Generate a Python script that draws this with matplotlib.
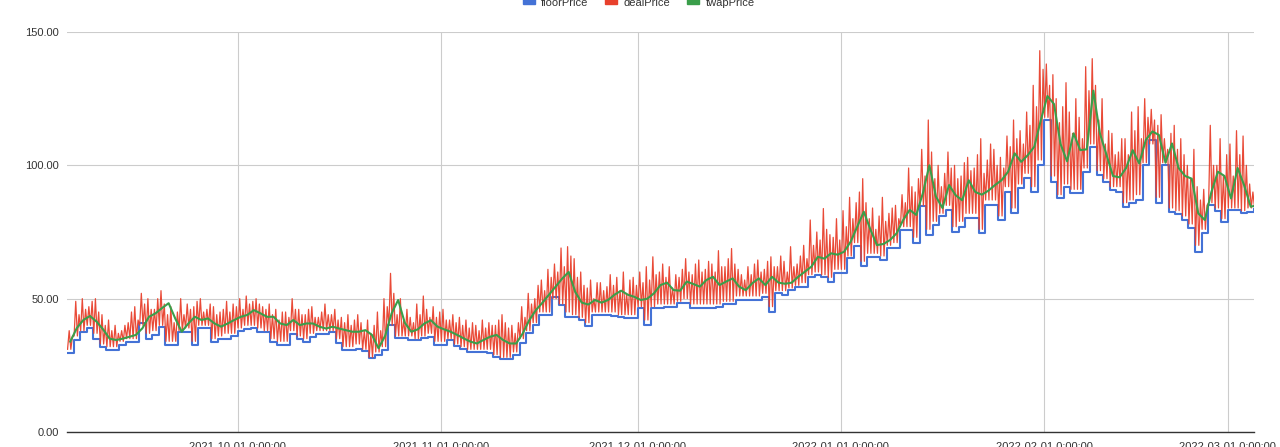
import numpy as np
import pandas as pd
import matplotlib
matplotlib.use("Agg")
import matplotlib.pyplot as plt
from matplotlib.patches import Rectangle

plt.rcParams['font.family'] = ['Liberation Sans', 'DejaVu Sans']

start_date = "2021-09-05"

floor_price = [
    29.6, 34.5, 37.5, 39, 35, 32, 30.7, 30.7, 32.6, 33.7,
    33.7, 41, 35, 36.4, 39.4, 32.6, 32.6, 37.5, 37.5, 32.6,
    39, 39, 33.7, 35, 35, 36, 38, 38.5, 39, 37.5,
    37.5, 33.7, 32.6, 32.6, 36.9, 35, 33.7, 35.7, 36.9, 36.9,
    37.5, 33.4, 30.7, 30.7, 31.2, 30.3, 27.7, 28.9, 30.7, 40.1,
    35.2, 35.2, 34.5, 34.5, 35.2, 35.7, 32.6, 32.6, 34.5, 32.2,
    31, 30, 30, 30, 29.6, 28.1, 27.3, 27.3, 28.9, 33.4,
    37, 40, 43.9, 43.9, 50.6, 47.6, 43.2, 43.2, 42, 39.7,
    43.9, 43.9, 43.9, 43.5, 43.2, 42.7, 42.7, 46.5, 40.1, 46.5,
    46.5, 46.8, 46.8, 48.4, 48.4, 46.5, 46.5, 46.5, 46.5, 47,
    48, 48, 49.5, 49.5, 49.5, 49.5, 50.5, 45, 52, 51.4,
    53.2, 54.4, 54.4, 58.1, 58.7, 58.1, 56.2, 59.6, 59.6, 65.2,
    69.7, 62.2, 65.6, 65.6, 64.5, 69, 69, 75.7, 75.7, 70.9,
    84.7, 73.9, 77.6, 81, 83.2, 75, 76.9, 80.2, 80.2, 74.6,
    85.1, 85.1, 79.5, 90, 82.1, 91.5, 95.2, 90, 100, 117,
    93.7, 87.7, 91.9, 89.6, 89.6, 97.5, 106.9, 96.4, 93.7, 90.7,
    90, 84.4, 85.9, 87, 100, 109.5, 85.9, 100, 82.5, 81.8,
    79.5, 76.5, 67.5, 74.6, 85.1, 83, 78.7, 83.2, 83.2, 82,
    82.5, 83.5,
]

# dealPrice: per day, a trough, the main spike and a secondary spike
deal_low = [
    31, 36, 38, 40, 37, 33, 32, 32, 34, 35,
    35, 40, 37, 38, 40, 34, 34, 38, 39, 34,
    40, 40, 35, 36, 37, 37, 39, 40, 40, 39,
    38, 35, 34, 34, 38, 36, 35, 37, 38, 38,
    38, 35, 32, 32, 33, 31, 28, 30, 32, 40,
    36, 36, 36, 35, 36, 37, 34, 34, 35, 33,
    32, 31, 31, 31, 31, 29, 28, 28, 30, 35,
    38, 41, 45, 45, 50, 48, 45, 44, 43, 41,
    45, 45, 45, 45, 44, 44, 44, 47, 42, 47,
    48, 48, 48, 49, 50, 48, 48, 48, 48, 48,
    49, 49, 51, 51, 51, 51, 52, 47, 53, 53,
    54, 55, 56, 59, 60, 59, 58, 61, 61, 66,
    71, 64, 67, 67, 66, 70, 71, 77, 77, 73,
    85, 76, 79, 82, 85, 77, 79, 82, 82, 76,
    87, 87, 81, 92, 84, 93, 97, 92, 102, 118,
    96, 89, 93, 91, 91, 99, 108, 98, 95, 92,
    92, 86, 87, 89, 101, 108, 88, 101, 84, 83,
    81, 78, 70, 76, 86, 84, 80, 84, 84, 83,
    84, 84,
]

deal_high = [
    38, 49, 50, 47, 50, 44, 42, 40, 38, 41,
    47, 52, 50, 46, 53, 44, 41, 50, 48, 47,
    50, 46, 47, 45, 49, 48, 50, 51, 49, 48,
    46, 44, 42, 45, 50, 46, 44, 47, 43, 48,
    44, 42, 41, 40, 44, 38, 37, 45, 50, 59.5,
    44, 42, 43, 48, 51, 43, 43, 46, 42, 41,
    40, 39, 40, 42, 41, 40, 44, 39, 37, 47,
    52, 50, 57, 61, 63, 69, 69.5, 65, 60, 54,
    50, 56, 54.5, 55, 53, 52, 58, 60, 62, 65.7,
    60, 58, 54, 58, 65, 59, 64.5, 61, 63, 68,
    62, 68.8, 61, 57, 59, 64.5, 61, 65.7, 62, 64,
    69.5, 63, 70, 79.5, 75, 83.8, 74, 80, 83, 88,
    86, 95, 80, 76, 88, 82, 85, 89, 99, 90,
    106, 117, 95, 92, 105, 100, 96, 103, 99, 110,
    102, 106, 103, 111, 117, 113, 120, 130, 143, 138,
    134, 116, 131, 112, 118, 137, 140, 117, 108, 112,
    105, 110, 120, 122, 125, 121, 115, 110, 112, 106,
    104, 95, 92, 91, 115, 100, 96, 108, 113, 111,
    93, 100,
]

deal_peak2 = [
    36, 44, 46, 49, 45, 40, 38, 37, 40, 45,
    42, 48, 46, 50, 48, 47, 45, 44, 46, 49,
    45, 48, 44, 46, 45, 47, 46, 48, 50, 47,
    48, 46, 45, 43, 46, 44, 46, 43, 45, 44,
    46, 43, 44, 42, 41, 42, 40, 38, 47, 52,
    50, 46, 41, 44, 46, 47, 45, 42, 44, 43,
    42, 41, 38, 39, 40, 42, 41, 40, 41, 43,
    48, 55, 53, 58, 60, 62, 66, 58, 55, 57,
    56, 53, 59, 58, 60, 57, 55, 56, 57, 59,
    63, 62, 59, 61, 60, 63, 60, 64, 60, 62,
    65, 63, 59, 62, 63, 60, 64, 62, 66, 60,
    62, 66, 65, 70, 72, 76, 73, 72, 77, 80,
    90, 86, 84, 81, 79, 84, 80, 86, 92, 95,
    96, 105, 100, 97, 99, 95, 101, 98, 104, 97,
    108, 100, 99, 107, 110, 108, 115, 122, 136, 130,
    125, 122, 120, 125, 110, 128, 130, 125, 113, 104,
    110, 104, 113, 110, 118, 117, 119, 106, 115, 110,
    100, 106, 87, 85, 100, 110, 104, 96, 104, 100,
    90, 88,
]

twap_price = [
    33.9, 39, 42, 43.5, 41.4, 38.5, 35, 34.5, 35, 35.7,
    36.4, 38.9, 43.2, 44.5, 46.5, 48.3, 42.6, 37.6, 40.7, 43.2,
    42, 42.6, 40.7, 39.5, 40.7, 42, 43.2, 43.9, 45.7, 44.5,
    43.2, 43.2, 40.7, 40.1, 42, 40.1, 40.7, 40.7, 39.5, 38.8,
    39.5, 38.8, 38.2, 37.6, 37.6, 38.2, 36.4, 31.4, 36, 44.5,
    49.5, 41, 37.6, 38.5, 40.7, 41.9, 39.5, 38.5, 37.6, 36.4,
    35.1, 33.9, 33.2, 34.5, 35.7, 36.4, 34.5, 33.2, 33.2, 37,
    42, 45.7, 48.5, 51.5, 54.5, 57.5, 60, 52.5, 48.5, 47.8,
    49.5, 48.5, 49.5, 51.5, 53, 51.5, 50.7, 49.5, 50, 52,
    55.1, 56, 53.2, 53, 56.4, 55.5, 54.5, 57, 58.2, 55.1,
    56.4, 57.6, 54.5, 53.2, 55.8, 57.6, 55.1, 58.2, 56, 55.6,
    56, 58.2, 60.1, 62, 65.7, 65, 67, 66.5, 67.6, 71.4,
    77, 82.6, 76, 70.1, 70.5, 72, 74.5, 79.5, 83.3, 81.4,
    89.5, 100, 88.3, 84, 92.6, 88.8, 86.9, 94.4, 90, 89,
    90.5, 92.6, 94.4, 97.6, 104.5, 101.3, 103.8, 107, 117, 126,
    123, 108, 101.5, 112, 105.7, 106, 128, 112, 104, 96,
    95.5, 99, 105.7, 100.7, 109.5, 112.7, 111.4, 101, 108.2, 99,
    96, 95, 82, 79.5, 90, 97.6, 96, 87.6, 99, 92.5,
    84.5, 85,
]

tick_dates = ["2021-10-01", "2021-11-01", "2021-12-01", "2022-01-01", "2022-02-01", "2022-03-01"]
tick_labels = [d + " 0:00:00" for d in tick_dates]
y_ticks = [0, 50, 100, 150]
y_labels = ["0.00", "50.00", "100.00", "150.00"]
series_names = ["floorPrice", "dealPrice", "twapPrice"]
colors = ["#4472D6", "#E8402C", "#3A9E4A"]

days = pd.date_range(start_date, periods=len(floor_price), freq="D")
twap_t = days + pd.Timedelta(hours=12)
deal_t = []
deal_v = []
for d, lo, hi, p2 in zip(days, deal_low, deal_high, deal_peak2):
    deal_t += [d + pd.Timedelta(hours=2), d + pd.Timedelta(hours=8),
               d + pd.Timedelta(hours=14), d + pd.Timedelta(hours=20)]
    deal_v += [lo, hi, lo, p2]

W, H = 1280, 447
fig = plt.figure(figsize=(W / 100, H / 100), dpi=100)
x0, x1, ytop, ybot = 67, 1254, 32, 432
ax = fig.add_axes([x0 / W, (H - ybot) / H, (x1 - x0) / W, (ybot - ytop) / H])

ax.plot(days, floor_price, drawstyle="steps-post", color=colors[0], lw=1.5, zorder=3)
ax.plot(deal_t, deal_v, color=colors[1], lw=0.9, zorder=4, alpha=0.95)
ax.plot(twap_t, twap_price, color=colors[2], lw=1.5, zorder=5)

ax.set_ylim(0, 150)
ax.set_xlim(pd.Timestamp(start_date), pd.Timestamp("2022-03-05"))
ax.set_yticks(y_ticks)
ax.set_yticklabels(y_labels)
ax.set_xticks(pd.to_datetime(tick_dates))
ax.set_xticklabels(tick_labels)
ax.tick_params(axis="both", length=0, labelsize=8, labelcolor="#333333")
ax.tick_params(axis="y", pad=6)
ax.tick_params(axis="x", pad=7)
ax.grid(True, color="#cccccc", lw=0.8, zorder=0)
for s in ["top", "right", "left"]:
    ax.spines[s].set_visible(False)
ax.spines["bottom"].set_color("#333333")
ax.spines["bottom"].set_linewidth(1.0)
ax.spines["bottom"].set_zorder(6)

# legend at top center
leg_rect_x = [523, 605, 687]
leg_text_x = [541, 623, 706]
for rx, tx, name, c in zip(leg_rect_x, leg_text_x, series_names, colors):
    fig.patches.append(Rectangle((rx / W, 1 - 3.5 / H), 12 / W, 10 / H,
                                 transform=fig.transFigure, color=c, clip_on=False))
    fig.text(tx / W, 1 - 5.5 / H, name, fontsize=8, color="#333333",
             va="baseline", ha="left")

fig.savefig("out.png", dpi=100)
